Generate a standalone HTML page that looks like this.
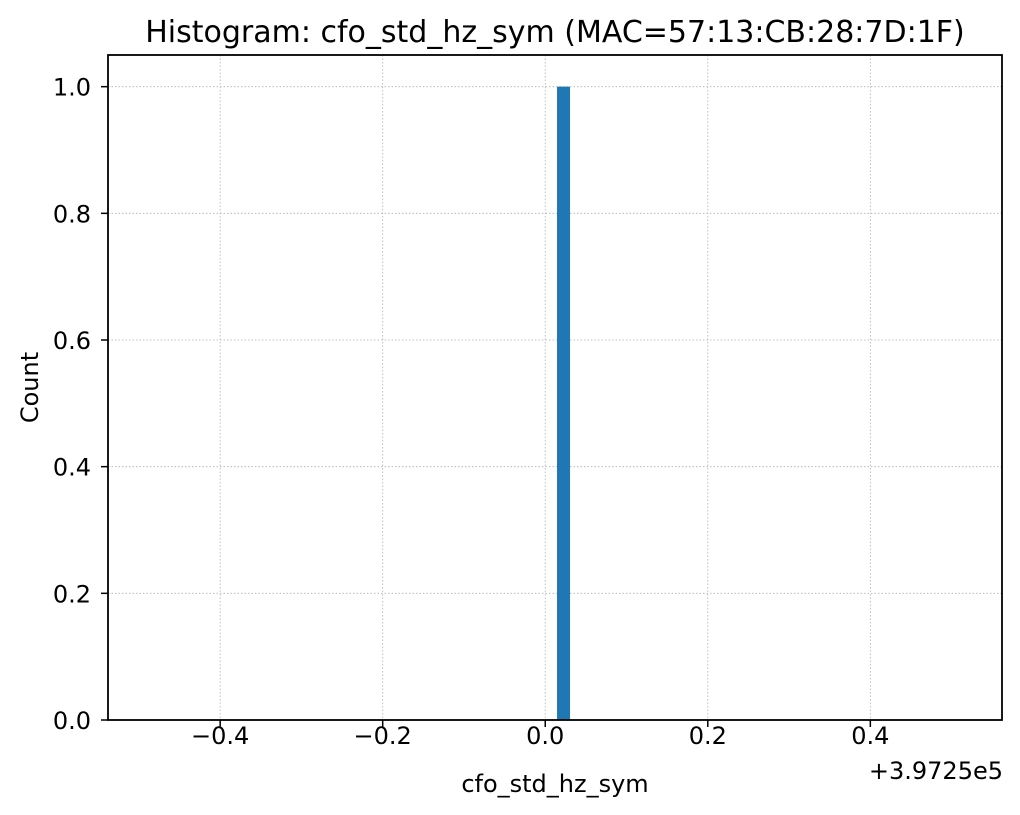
<!DOCTYPE html>
<html><head><meta charset="utf-8"><style>
body{margin:0;background:#fff;}
svg{display:block;font-family:"DejaVu Sans","Liberation Sans",sans-serif;}
</style></head><body>
<svg id="c" width="1020" height="815" xmlns="http://www.w3.org/2000/svg"></svg>
<script>
const binEdges=[0.0145,0.0305];
const counts=[1];
const xTicks=[-0.4,-0.2,0.0,0.2,0.4];
const xTickLabels=["\u22120.4","\u22120.2","0.0","0.2","0.4"];
const yTicks=[0,0.2,0.4,0.6,0.8,1.0];
const yTickLabels=["0.0","0.2","0.4","0.6","0.8","1.0"];
const xDomain=[-0.538,0.562], yDomain=[0,1.05];
const L=108,R=1002,T=55,B=720;
const sx=v=>L+(v-xDomain[0])/(xDomain[1]-xDomain[0])*(R-L);
const sy=v=>B-(v-yDomain[0])/(yDomain[1]-yDomain[0])*(B-T);
const svg=document.getElementById('c');
const NS='http://www.w3.org/2000/svg';
function mk(t,a,txt){const e=document.createElementNS(NS,t);for(const k in a)e.setAttribute(k,a[k]);if(txt!==undefined)e.textContent=txt;svg.appendChild(e);return e;}
xTicks.forEach((v,i)=>{
  const g=mk('line',{x1:sx(v),x2:sx(v),y1:T,y2:B,stroke:'#b0b0b0','stroke-width':0.8,'stroke-dasharray':'1.5,2'});
  
  
  const t=mk('line',{x1:sx(v),x2:sx(v),y1:B,y2:B+7,stroke:'#000','stroke-width':1.5});
  
  
  const l=mk('text',{x:sx(v),y:B+24,'text-anchor':'middle','font-size':'24px'},xTickLabels[i]);
  
  
});
yTicks.forEach((v,i)=>{
  const g=mk('line',{x1:L,x2:R,y1:sy(v),y2:sy(v),stroke:'#b0b0b0','stroke-width':0.8,'stroke-dasharray':'1.5,2'});
  
  
  const t=mk('line',{x1:L-7,x2:L,y1:sy(v),y2:sy(v),stroke:'#000','stroke-width':1.5});
  
  
  const l=mk('text',{x:L-17,y:sy(v)+9,'text-anchor':'end','font-size':'24px'},yTickLabels[i]);
  
  
});
counts.forEach((c,i)=>{
  const b=mk('rect',{x:sx(binEdges[i]),y:sy(c),width:sx(binEdges[i+1])-sx(binEdges[i]),height:sy(0)-sy(c),fill:'#1f77b4'});
  
  
});
const f=mk('rect',{x:L,y:T,width:R-L,height:B-T,fill:'none',stroke:'#000','stroke-width':1.8});


const tt=mk('text',{x:(L+R)/2,y:42,'text-anchor':'middle','font-size':'30px'},'Histogram: cfo_std_hz_sym (MAC=57:13:CB:28:7D:1F)');


const xl=mk('text',{x:(L+R)/2,y:792,'text-anchor':'middle','font-size':'24px'},'cfo_std_hz_sym');


const off=mk('text',{x:R+1,y:779,'text-anchor':'end','font-size':'24px'},'+3.9725e5');


const yl=mk('text',{x:38,y:(T+B)/2,'text-anchor':'middle','font-size':'24px',transform:'rotate(-90 38 '+((T+B)/2)+')'},'Count');


</script>
</body></html>
